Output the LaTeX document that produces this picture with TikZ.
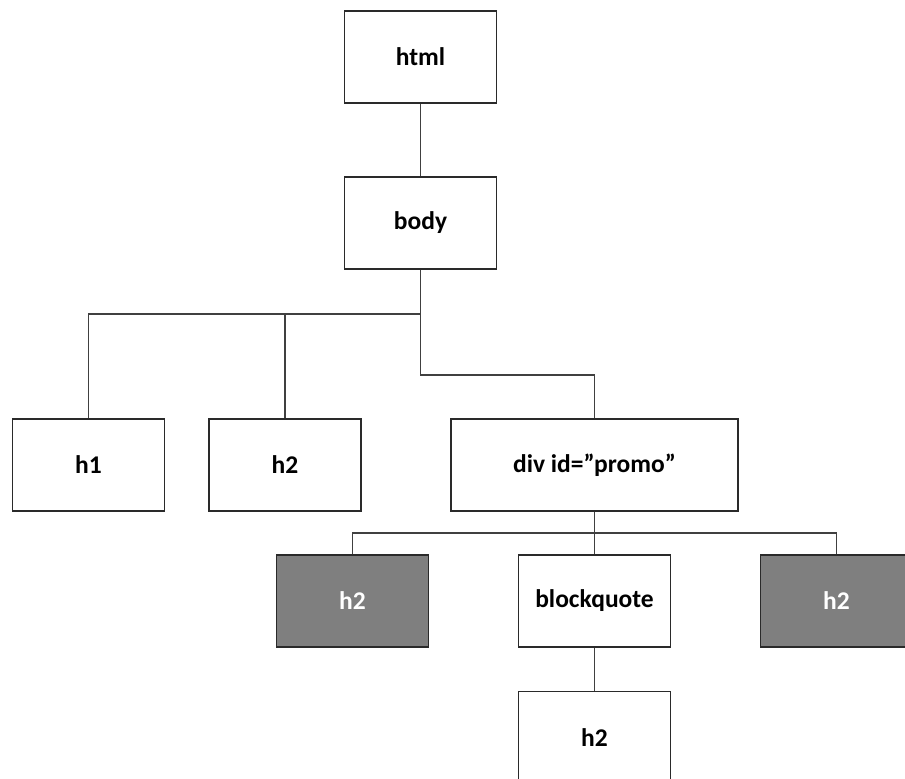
\documentclass[tikz,border=0pt]{standalone}
\usepackage{fontspec}
\setmainfont{Carlito}
\usepackage{tikz}
\usetikzlibrary{calc}
\definecolor{boxline}{HTML}{2A2A2A}
\definecolor{wireline}{HTML}{404040}
\definecolor{shade}{HTML}{7F7F7F}
\tikzset{tag/.style={draw=boxline,line width=1.6pt,fill=white,rectangle,inner sep=0pt,
                     minimum width=152pt,minimum height=92pt,font=\fontsize{25.5}{28}\selectfont\bfseries},
         shadetag/.style={tag,fill=shade,text=white},
         wire/.style={draw=wireline,line width=1.4pt}}
\begin{document}
\begin{tikzpicture}[x=1pt,y=-1pt]
                                     \useasboundingbox (0,0) rectangle (905,779);
                                     \clip (0,0) rectangle (905,779);
                                     \node[tag](html)at(420.5,57){html};
                                     \node[tag](body)at(420.5,223){body};
                                     \node[tag](hone)at(88.5,465){h1};
                                     \node[tag](htwo)at(285,465){h2};
                                     \node[tag,minimum width=287pt](div)at(594.5,465){div id=”promo”};
                                     \node[shadetag](leftgray)at(352.5,601){h2};
                                     \node[tag](quote)at(594.5,601){blockquote};
                                     \node[shadetag](rightgray)at(836.5,601){h2};
                                     \node[tag](inner)at(594.5,737.5){h2};
                                     \coordinate(j)at(420.5,314);
                                     \coordinate(k)at(420.5,375);
                                     \coordinate(m)at(594.5,533);
                                     \draw[wire](html)--(body);
                                     \draw[wire](body.south)--(k)-|(div.north);
                                     \draw[wire](hone.north)|-(j);
                                     \draw[wire](htwo.north)|-(j);
                                     \draw[wire](div)--(quote);
                                     \draw[wire](leftgray.north)|-(m)-|(rightgray.north);
                                     \draw[wire](quote)--(inner);
                                 \end{tikzpicture}
\end{document}
